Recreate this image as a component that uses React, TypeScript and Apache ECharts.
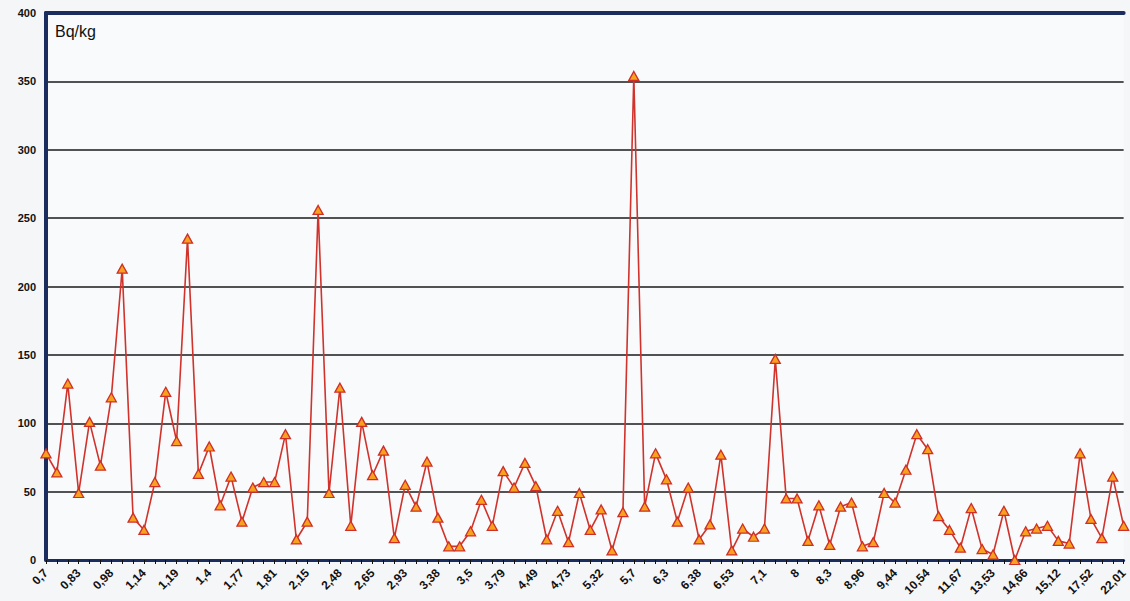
import React, { useEffect, useRef } from "react";
import * as echarts from "echarts";

// Labels visible on the x axis (every third category)
const shownLabels: string[] = [
  "0,7", "0,83", "0,98", "1,14", "1,19", "1,4", "1,77", "1,81", "2,15", "2,48",
  "2,65", "2,93", "3,38", "3,5", "3,79", "4,49", "4,73", "5,32", "5,7", "6,3",
  "6,38", "6,53", "7,1", "8", "8,3", "8,96", "9,44", "10,54", "11,67", "13,53",
  "14,66", "15,12", "17,52", "22,01",
];

// Bq/kg values, one per category (100 points)
const values: number[] = [
  78, 64, 129, 49, 101, 69, 119, 213, 31, 22,
  57, 123, 87, 235, 63, 83, 40, 61, 28, 53,
  57, 57, 92, 15, 28, 256, 49, 126, 25, 101,
  62, 80, 16, 55, 39, 72, 31, 10, 10, 21,
  44, 25, 65, 53, 71, 54, 15, 36, 13, 49,
  22, 37, 7, 35, 354, 39, 78, 59, 28, 53,
  15, 26, 77, 7, 23, 17, 23, 147, 45, 45,
  14, 40, 11, 39, 42, 10, 13, 49, 42, 66,
  92, 81, 32, 22, 9, 38, 8, 4, 36, 0,
  21, 23, 25, 14, 12, 78, 30, 16, 61, 25,
];

const yTicks = { min: 0, max: 400, interval: 50 };
const unitLabel = "Bq/kg";

// Category list: only every third category's name is known (the rest are unlabelled)
const categories: string[] = values.map((_, i) =>
  i % 3 === 0 && shownLabels[i / 3] !== undefined ? shownLabels[i / 3] : " ".repeat(i % 3)
);

export default function App() {
  const ref = useRef<HTMLDivElement>(null);

  useEffect(() => {
    document.body.style.margin = "0";
    if (!ref.current) return;
    const chart = echarts.init(ref.current, null, { renderer: "svg" });
    const navy = "#1b2c5e";
    chart.setOption({
      animation: false,
      backgroundColor: "#f5f6f8",
      title: {
        text: unitLabel,
        left: 50,
        top: 18,
        textStyle: { fontFamily: "Liberation Sans, Arial, sans-serif", fontSize: 16, fontWeight: "normal", color: "#111" },
      },
      grid: { left: 46, right: 3, top: 13, bottom: 41, show: true, backgroundColor: "#f9fafb", borderWidth: 0 },
      xAxis: [
        {
          type: "category",
          data: categories,
          boundaryGap: false,
          axisLine: { lineStyle: { color: navy, width: 3 } },
          axisTick: { show: true, interval: 0, length: 4, lineStyle: { color: "#111", width: 1 } },
          axisLabel: {
            interval: 2,
            rotate: 45,
            margin: 11,
            fontFamily: "Liberation Sans, Arial, sans-serif",
            fontSize: 12,
            fontWeight: "bold",
            color: "#111",
          },
          splitLine: { show: false },
        },
        {
          type: "category",
          position: "top",
          data: categories,
          boundaryGap: false,
          axisLine: { show: true, lineStyle: { color: navy, width: 4 } },
          axisTick: { show: false },
          axisLabel: { show: false },
        },
      ],
      yAxis: {
        type: "value",
        min: yTicks.min,
        max: yTicks.max,
        interval: yTicks.interval,
        axisLine: { show: true, lineStyle: { color: navy, width: 4 } },
        axisTick: { show: false },
        axisLabel: {
          margin: 10,
          fontFamily: "Liberation Sans, Arial, sans-serif",
          fontSize: 11,
          fontWeight: "bold",
          color: "#111",
        },
        splitLine: { show: true, lineStyle: { color: "#1a1a1a", width: 1.5 } },
      },
      series: [
        {
          type: "line",
          data: values,
          symbol: "triangle",
          symbolSize: [10, 9],
          showAllSymbol: true,
          lineStyle: { color: "#d0322c", width: 1.6 },
          itemStyle: { color: "#f6a21e", borderColor: "#cf2f26", borderWidth: 1.3 },
        },
      ],
    });
    return () => chart.dispose();
  }, []);

  return <div ref={ref} style={{ width: 1130, height: 601, position: "absolute", left: 0, top: 0 }} />;
}
